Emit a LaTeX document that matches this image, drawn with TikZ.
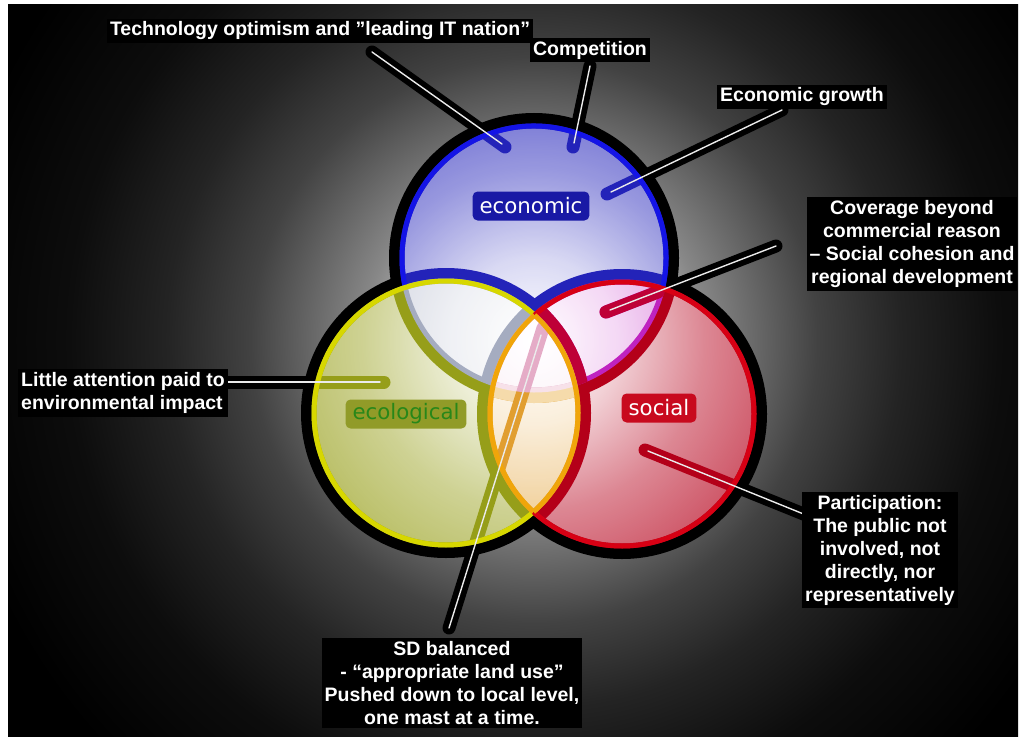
\documentclass[tikz,border=0pt]{standalone}
\usepackage{fontspec}
\setmainfont{Liberation Sans}
\newfontfamily\lblfont{DejaVu Sans}
\definecolor{blueS}{RGB}{35,35,185}
\definecolor{blueO}{RGB}{20,20,230}
\definecolor{yelS}{RGB}{150,158,25}
\definecolor{yelO}{RGB}{215,215,0}
\definecolor{redS}{RGB}{180,0,25}
\definecolor{redO}{RGB}{215,0,20}
\definecolor{lensO}{RGB}{240,165,10}
\definecolor{lensCover}{RGB}{170,160,150}
\definecolor{stubRed}{RGB}{190,0,55}
\definecolor{econBox}{RGB}{25,25,165}
\definecolor{socBox}{RGB}{200,10,30}
\definecolor{ecoBox}{RGB}{145,155,40}
\definecolor{ecoText}{RGB}{40,135,25}
\definecolor{wireC}{RGB}{235,235,235}
\pgfdeclareradialshading{bgglow}{\pgfpoint{0bp}{0bp}}{color(0bp)=(white); color(3.5bp)=(black!18); color(7.1bp)=(black!47); color(11.8bp)=(black!74); color(15.3bp)=(black!86); color(19.4bp)=(black!95); color(24.7bp)=(black); color(50bp)=(black)}
\tikzset{
  callout/.style={text=white, fill=black, inner sep=3pt, align=center,
    font=\bfseries\fontsize{19.5}{23}\selectfont},
  band/.style={line width=13pt, line cap=round, draw=black},
  wire/.style={line width=1.4pt, line cap=round, draw=wireC},
  ring/.style={line width=15.5pt, draw=black},
  rim/.style={line width=5pt},
  lbl/.style={rounded corners=5pt, minimum height=29pt, inner xsep=7pt,
    font=\lblfont\fontsize{21.3}{25}\selectfont}
}
\begin{document}
\begin{tikzpicture}[x=1pt,y=-1pt]
\useasboundingbox (0,0) rectangle (1022,741);
\fill[white] (0,0) rectangle (1022,741);
\fill[black] (8,5) rectangle (1018,736);
\begin{scope}
  \clip (8,5) rectangle (1018,736);
  \shade[shading=bgglow] (-66,-260) rectangle (1134,940);
\end{scope}

% coordinates for connectors
\coordinate (techA) at (372,52);   \coordinate (techB) at (502,144); \coordinate (techC) at (505,147);
\coordinate (compA) at (590,66);   \coordinate (compB) at (574,143); \coordinate (compC) at (573,147);
\coordinate (growA) at (782,110);  \coordinate (growB) at (611,192); \coordinate (growC) at (607,194);
\coordinate (covA) at (776,246);   \coordinate (covB) at (610,310);  \coordinate (covC) at (606,312);
\coordinate (covD) at (658,292);
\coordinate (litA) at (228,382);   \coordinate (litB) at (380,382);  \coordinate (litC) at (384,382);
\coordinate (parA) at (806,515);   \coordinate (parB) at (648,451);  \coordinate (parC) at (645,450);
\coordinate (sdA) at (449,628);    \coordinate (sdB) at (541,335);   \coordinate (sdC) at (543,328);

% circle centres
\coordinate (cE) at (534,258);
\coordinate (cY) at (446,413);
\coordinate (cR) at (622,414);

% black rings
\draw[ring] (cE) circle (137.25pt);
\draw[ring] (cY) circle (137.25pt);
\draw[ring] (cR) circle (137.25pt);

% soften the economic ring where it crosses the central lens
\begin{scope}
  \clip (cY) circle (130pt);
  \clip (cR) circle (130pt);
  \draw[ring, draw=lensCover] (cE) circle (137.25pt);
\end{scope}

% black bands
\draw[band] (techA) -- (techC);
\draw[band] (compA) -- (compC);
\draw[band] (growA) -- (growC);
\draw[band] (covA) -- (covC);
\draw[band] (litA) -- (litC);
\draw[band] (parA) -- (parC);
\draw[band] (sdA) -- (sdC);

% glassy disks (screen blending tints what lies below)
\begin{scope}[blend mode=screen]
  \fill[blueS] (cE) circle (134.5pt);
  \fill[yelS] (cY) circle (134.5pt);
  \fill[redS] (cR) circle (134.5pt);
\end{scope}

% ecological ring inside the economic/social overlap reads red
\begin{scope}
  \clip (cE) circle (134.5pt);
  \clip (cR) circle (134.5pt);
  \draw[line width=10.5pt, draw=stubRed] (cY) circle (139.75pt);
\end{scope}

% coverage stub reads red
\draw[band, draw=stubRed] (covC) -- (covD);

% visible parts of the coloured rims
\draw[rim, draw=blueO] (cE) ++(-13.3:132pt) arc[start angle=-13.3, end angle=192.9, radius=132pt];
\draw[rim, draw=yelO] (cY) ++(47.9:132pt) arc[start angle=47.9, end angle=311.5, radius=132pt];
\draw[rim, draw=redO] (cR) ++(-132.1:132pt) arc[start angle=-132.1, end angle=131.5, radius=132pt];
% orange outline of the ecological/social lens
\draw[rim, draw=lensO] (cY) ++(-48.5:132pt) arc[start angle=-48.5, end angle=47.9, radius=132pt];
\draw[rim, draw=lensO] (cR) ++(131.5:132pt) arc[start angle=131.5, end angle=227.9, radius=132pt];

% circle labels
\node[lbl, fill=econBox, text=white] (econ) at (531,206) {economic};
\node[lbl, fill=ecoBox, text=ecoText] (eco) at (406,414) {ecological};
\node[lbl, fill=socBox, text=white] (soc) at (659,408) {social};

% white wires
\draw[wire] (techA) -- (techB);
\draw[wire] (compA) -- (compB);
\draw[wire] (growA) -- (growB);
\draw[wire] (covA) -- (covB);
\draw[wire] (litA) -- (litB);
\draw[wire] (parA) -- (parB);
\draw[wire] (sdA) -- (sdB);

% callout texts
\node[callout] (tech) at (320,31) {Technology optimism and ”leading IT nation”};
\node[callout] (comp) at (590,50) {Competition};
\node[callout] (grow) at (802,97) {Economic growth};
\node[callout] (cov) at (912,244) {Coverage beyond\\commercial reason\\– Social cohesion and\\regional development};
\node[callout, align=left, anchor=west] (lit) at (18,393) {Little attention paid to\\environmental impact};
\node[callout] (par) at (880,550) {Participation:\\The public not\\involved, not\\directly, nor\\representatively};
\node[callout] (sd) at (452,683) {SD balanced\\- “appropriate land use”\\Pushed down to local level,\\one mast at a time.};
\end{tikzpicture}
\end{document}
